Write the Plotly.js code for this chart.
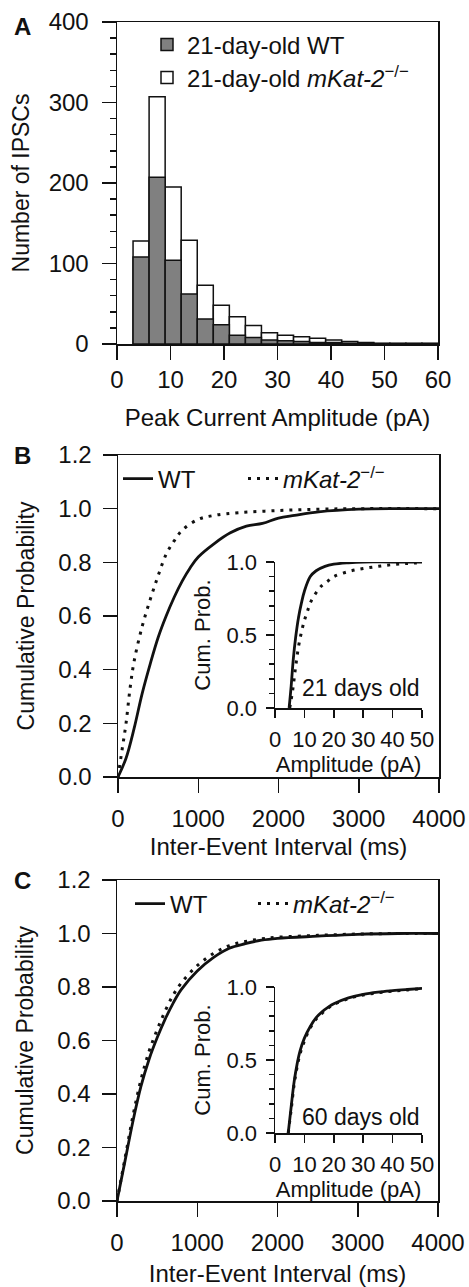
<!DOCTYPE html>
<html><head><meta charset="utf-8">
<script src="https://cdn.plot.ly/plotly-3.0.1.min.js"></script>
<style>html,body{margin:0;padding:0;background:#fff}#chart{width:469px;height:1287px}</style>
</head><body><div id="chart"></div>
<script>
// Panel A: histogram of peak current amplitude (bin width 3 pA)
const binCenters = [4.5, 7.5, 10.5, 13.5, 16.5, 19.5, 22.5, 25.5, 28.5, 31.5, 34.5, 37.5, 40.5, 43.5, 46.5, 49.5, 52.5, 55.5, 58.5];
const wtCounts   = [108, 207, 104, 62, 31, 24, 11, 8, 5, 4, 3, 2, 2, 1, 1, 0, 0, 0, 0];
const koCounts   = [128, 307, 195, 129, 73, 48, 34, 23, 14, 11, 9, 7, 5, 3, 2, 1, 1, 1, 1];

// Panel B: 21-day-old cumulative inter-event interval
const bWtMs   = [0, 100, 200, 300, 400, 500, 600, 700, 800, 900, 1000, 1200, 1400, 1600, 1800, 2000, 2200, 2500, 3000, 3500, 4000];
const bWtP    = [0, 0.07, 0.18, 0.31, 0.42, 0.52, 0.60, 0.67, 0.73, 0.78, 0.82, 0.87, 0.91, 0.935, 0.945, 0.965, 0.975, 0.988, 0.998, 1.0, 1.0];
const bKoMs   = [0, 50, 100, 150, 200, 300, 400, 500, 600, 700, 800, 1000, 1200, 1500, 2000, 2500, 3000, 4000];
const bKoP    = [0, 0.1, 0.2, 0.33, 0.43, 0.56, 0.66, 0.75, 0.83, 0.88, 0.92, 0.96, 0.975, 0.985, 0.993, 0.998, 1.0, 1.0];
// Panel B inset: amplitude
const bInWtAmp = [4.8, 5.5, 6.2, 7, 8, 9, 10, 12, 14, 17, 20, 25, 30, 40, 50];
const bInWtP   = [0, 0.15, 0.33, 0.48, 0.62, 0.72, 0.8, 0.9, 0.94, 0.97, 0.985, 0.995, 1.0, 1.0, 1.0];
const bInKoAmp = [5, 6, 7, 8, 9, 10, 11, 12, 14, 16, 18, 20, 25, 30, 35, 40, 45, 50];
const bInKoP   = [0, 0.12, 0.28, 0.42, 0.52, 0.6, 0.66, 0.72, 0.79, 0.84, 0.87, 0.9, 0.935, 0.955, 0.97, 0.982, 0.99, 0.995];

// Panel C: 60-day-old cumulative inter-event interval
const cMs   = [0, 100, 200, 300, 400, 500, 600, 700, 800, 1000, 1200, 1400, 1600, 1800, 2000, 2500, 3000, 3500, 4000];
const cWtP  = [0, 0.15, 0.3, 0.43, 0.53, 0.61, 0.68, 0.74, 0.79, 0.86, 0.91, 0.945, 0.962, 0.975, 0.982, 0.99, 0.997, 1.0, 1.0];
const cKoP  = [0, 0.16, 0.32, 0.455, 0.56, 0.64, 0.71, 0.77, 0.815, 0.88, 0.925, 0.955, 0.97, 0.98, 0.986, 0.993, 0.998, 1.0, 1.0];
// Panel C inset
const cInAmp  = [4.5, 5.5, 6.5, 7.5, 8.5, 10, 12, 14, 16, 18, 20, 25, 30, 35, 40, 45, 50];
const cInWtP  = [0, 0.18, 0.35, 0.47, 0.56, 0.65, 0.73, 0.79, 0.83, 0.86, 0.885, 0.925, 0.95, 0.965, 0.975, 0.983, 0.99];
const cInKoP  = [0, 0.16, 0.33, 0.45, 0.54, 0.63, 0.72, 0.78, 0.82, 0.855, 0.88, 0.92, 0.945, 0.96, 0.972, 0.98, 0.988];

const wtName = '21-day-old WT';
const koName = '21-day-old <i>mKat-2</i><sup>−/−</sup>';
const wtShort = 'WT';
const koShort = '<i>mKat-2</i><sup>−/−</sup>';

const FONT = 'Liberation Sans, Arial, Helvetica, sans-serif';
const INK = '#111';
const W = 469, H = 1287;
const px = v => v / W;
const py = v => 1 - v / H;
const DOT = '3px,6px';

function mainAxis(extra) {
  return Object.assign({
    showline: true, linecolor: INK, linewidth: 1.5, mirror: true,
    ticks: 'outside', ticklen: 14, tickwidth: 1.5, tickcolor: INK,
    showgrid: false, zeroline: false, fixedrange: true,
    tickfont: {size: 24, color: INK, family: FONT}
  }, extra);
}
function insetAxis(extra) {
  return Object.assign({
    showline: true, linecolor: INK, linewidth: 1.5, mirror: false,
    ticks: 'outside', ticklen: 8, tickwidth: 1.5, tickcolor: INK,
    showgrid: false, zeroline: false, fixedrange: true,
    tickfont: {size: 22, color: INK, family: FONT}
  }, extra);
}

const traces = [
  {type: 'bar', x: binCenters, y: koCounts, width: 3, name: koName,
   marker: {color: '#ffffff', line: {color: INK, width: 1.5}}, xaxis: 'x', yaxis: 'y', legend: 'legend4'},
  {type: 'bar', x: binCenters, y: wtCounts, width: 3, name: wtName,
   marker: {color: '#808080', line: {color: INK, width: 1.5}}, xaxis: 'x', yaxis: 'y', legend: 'legend'},

  {type: 'scatter', mode: 'lines', x: bWtMs, y: bWtP, name: wtShort, line: {color: INK, width: 2.8, shape: 'spline'},
   xaxis: 'x2', yaxis: 'y2', legend: 'legend2'},
  {type: 'scatter', mode: 'lines', x: bKoMs, y: bKoP, name: koShort, line: {color: INK, width: 3, dash: DOT, shape: 'spline'},
   xaxis: 'x2', yaxis: 'y2', legend: 'legend5'},
  {type: 'scatter', mode: 'lines', x: bInWtAmp, y: bInWtP, showlegend: false, line: {color: INK, width: 2.8, shape: 'spline'},
   xaxis: 'x3', yaxis: 'y3'},
  {type: 'scatter', mode: 'lines', x: bInKoAmp, y: bInKoP, showlegend: false, line: {color: INK, width: 3, dash: DOT, shape: 'spline'},
   xaxis: 'x3', yaxis: 'y3'},

  {type: 'scatter', mode: 'lines', x: cMs, y: cWtP, name: wtShort, line: {color: INK, width: 2.8, shape: 'spline'},
   xaxis: 'x4', yaxis: 'y4', legend: 'legend3'},
  {type: 'scatter', mode: 'lines', x: cMs, y: cKoP, name: koShort, line: {color: INK, width: 3, dash: DOT, shape: 'spline'},
   xaxis: 'x4', yaxis: 'y4', legend: 'legend6'},
  {type: 'scatter', mode: 'lines', x: cInAmp, y: cInWtP, showlegend: false, line: {color: INK, width: 2.8, shape: 'spline'},
   xaxis: 'x5', yaxis: 'y5'},
  {type: 'scatter', mode: 'lines', x: cInAmp, y: cInKoP, showlegend: false, line: {color: INK, width: 3, dash: DOT, shape: 'spline'},
   xaxis: 'x5', yaxis: 'y5'}
];

const titleFont = {size: 24, color: INK, family: FONT};
const yTitleFont = {size: 23, color: INK, family: FONT};
const insetTitleFont = {size: 22, color: INK, family: FONT};
const legFont = {size: 24, color: INK, family: FONT};

function leg(xp, yp) {
  return {x: px(xp), y: py(yp), xanchor: 'left', yanchor: 'middle', bgcolor: 'rgba(0,0,0,0)',
          font: legFont, itemwidth: 30};
}

const layout = {
  width: W, height: H,
  margin: {l: 0, r: 0, t: 0, b: 0},
  paper_bgcolor: '#ffffff', plot_bgcolor: 'rgba(0,0,0,0)',
  font: {family: FONT, color: INK, size: 24},
  barmode: 'overlay',
  bargap: 0,
  showlegend: true,

  xaxis: mainAxis({domain: [px(117), px(438)], anchor: 'y', range: [0, 60], tick0: 0, dtick: 10,
    title: {text: 'Peak Current Amplitude (pA)', font: titleFont, standoff: 17}}),
  yaxis: mainAxis({domain: [py(344), py(22)], anchor: 'x', range: [0, 400], tick0: 0, dtick: 100,
    ticklabelstandoff: 8,
    minor: {dtick: 20, ticks: 'outside', ticklen: 6, tickwidth: 1.5, tickcolor: INK},
    title: {text: 'Number of IPSCs', font: yTitleFont, standoff: 12}}),

  xaxis2: mainAxis({domain: [px(118), px(439)], anchor: 'y2', range: [0, 4000], tick0: 0, dtick: 1000,
    ticklabelstandoff: 6,
    title: {text: 'Inter-Event Interval (ms)', font: titleFont, standoff: 7}}),
  yaxis2: mainAxis({domain: [py(777), py(455)], anchor: 'x2', range: [0, 1.2], tick0: 0, dtick: 0.2, tickformat: '.1f',
    ticklabelstandoff: 6,
    title: {text: 'Cumulative Probability', font: yTitleFont, standoff: 17}}),

  xaxis3: insetAxis({domain: [px(275), px(422)], anchor: 'y3', range: [0, 50], tick0: 0, dtick: 10,
    ticklabelstandoff: 3,
    title: {text: 'Amplitude (pA)', font: insetTitleFont, standoff: 0}}),
  yaxis3: insetAxis({domain: [py(708), py(562)], anchor: 'x3', range: [0, 1], tick0: 0, dtick: 0.5, tickformat: '.1f',
    ticklabelstandoff: 4,
    minor: {dtick: 0.1, ticks: 'outside', ticklen: 5, tickwidth: 1.5, tickcolor: INK},
    title: {text: 'Cum. Prob.', font: insetTitleFont, standoff: 10}}),

  xaxis4: mainAxis({domain: [px(117), px(438)], anchor: 'y4', range: [0, 4000], tick0: 0, dtick: 1000,
    ticklabelstandoff: 6,
    title: {text: 'Inter-Event Interval (ms)', font: titleFont, standoff: 11}}),
  yaxis4: mainAxis({domain: [py(1201), py(880)], anchor: 'x4', range: [0, 1.2], tick0: 0, dtick: 0.2, tickformat: '.1f',
    ticklabelstandoff: 6,
    title: {text: 'Cumulative Probability', font: yTitleFont, standoff: 17}}),

  xaxis5: insetAxis({domain: [px(275), px(422)], anchor: 'y5', range: [0, 50], tick0: 0, dtick: 10,
    ticklabelstandoff: 3,
    title: {text: 'Amplitude (pA)', font: insetTitleFont, standoff: 0}}),
  yaxis5: insetAxis({domain: [py(1133), py(987)], anchor: 'x5', range: [0, 1], tick0: 0, dtick: 0.5, tickformat: '.1f',
    ticklabelstandoff: 4,
    minor: {dtick: 0.1, ticks: 'outside', ticklen: 5, tickwidth: 1.5, tickcolor: INK},
    title: {text: 'Cum. Prob.', font: insetTitleFont, standoff: 10}}),

  legend:  leg(147, 45),
  legend4: leg(147, 78),
  legend2: leg(118, 479),
  legend5: leg(243, 479),
  legend3: leg(130, 904),
  legend6: leg(253, 904),

  annotations: [
    {text: '<b>A</b>', xref: 'paper', yref: 'paper', x: px(22), y: py(26), xanchor: 'center', yanchor: 'middle', showarrow: false, font: {size: 24, color: INK, family: FONT}},
    {text: '<b>B</b>', xref: 'paper', yref: 'paper', x: px(22), y: py(455), xanchor: 'center', yanchor: 'middle', showarrow: false, font: {size: 24, color: INK, family: FONT}},
    {text: '<b>C</b>', xref: 'paper', yref: 'paper', x: px(22), y: py(880), xanchor: 'center', yanchor: 'middle', showarrow: false, font: {size: 24, color: INK, family: FONT}},
    {text: '21 days old', xref: 'x3', yref: 'y3', x: 50, y: 0.14, xanchor: 'right', yanchor: 'middle', showarrow: false, font: {size: 23, color: INK, family: FONT}},
    {text: '60 days old', xref: 'x5', yref: 'y5', x: 50, y: 0.11, xanchor: 'right', yanchor: 'middle', showarrow: false, font: {size: 23, color: INK, family: FONT}}
  ]
};

Plotly.newPlot('chart', traces, layout, {staticPlot: true, displayModeBar: false});
</script>
</body></html>
